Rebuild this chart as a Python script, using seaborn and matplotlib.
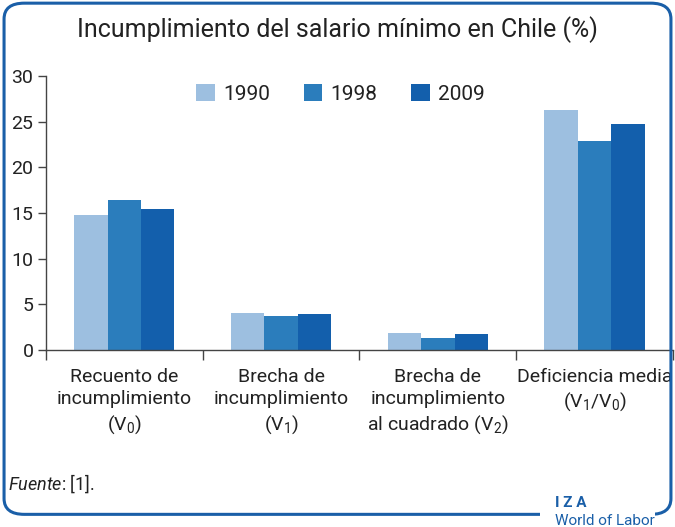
import numpy as np
import pandas as pd
import seaborn as sns
import matplotlib.pyplot as plt
from matplotlib.patches import FancyBboxPatch, Rectangle, Patch
from matplotlib.ticker import FixedLocator

# Data
categories = [
    "Recuento de\nincumplimiento\n(V$_0$)",
    "Brecha de\nincumplimiento\n(V$_1$)",
    "Brecha de\nincumplimiento\nal cuadrado (V$_2$)",
    "Deficiencia media\n(V$_1$/V$_0$)",
]
years = ["1990", "1998", "2009"]
v1990 = [14.8, 4.0, 1.8, 26.3]
v1998 = [16.4, 3.7, 1.3, 22.9]
v2009 = [15.4, 3.9, 1.75, 24.75]
colors = ["#9dbfe0", "#2b7dbc", "#135fac"]

df = pd.DataFrame({
    "cat": categories * 3,
    "year": [y for y in years for _ in categories],
    "value": v1990 + v1998 + v2009,
})

sns.set_style("white")
plt.rcParams["font.family"] = ["Roboto", "DejaVu Sans"]
plt.rcParams["mathtext.fontset"] = "custom"
plt.rcParams["mathtext.rm"] = "Roboto"
plt.rcParams["mathtext.it"] = "Roboto:italic"
plt.rcParams["mathtext.default"] = "rm"

fig = plt.figure(figsize=(6.75, 5.27), dpi=100)
ax = fig.add_axes([0.068, 0.336, 0.929, 0.52])

sns.barplot(data=df, x="cat", y="value", hue="year", palette=colors,
            width=0.64, saturation=1, linewidth=0, ax=ax, legend=False)

ax.set_xlim(-0.5, 3.5)
ax.set_ylim(0, 30)
ax.set_yticks(np.arange(0, 31, 5))
ax.set_xlabel("")
ax.set_ylabel("")
for s in ["top", "right"]:
    ax.spines[s].set_visible(False)
for s in ["left", "bottom"]:
    ax.spines[s].set_color("#444444")
    ax.spines[s].set_linewidth(1.0)

ax.tick_params(axis="y", direction="out", length=6, width=1, color="#444444",
               labelsize=14, labelcolor="#222222", left=True, pad=3)
ax.tick_params(axis="x", which="major", length=0, labelsize=14,
               labelcolor="#222222", pad=13)
ax.xaxis.set_minor_locator(FixedLocator([-0.5, 0.5, 1.5, 2.5, 3.5]))
ax.tick_params(axis="x", which="minor", direction="out", length=7, width=1,
               color="#444444", bottom=True)
for lab in ax.get_xticklabels():
    lab.set_linespacing(1.3)

handles = [Patch(facecolor=c, edgecolor="none") for c in colors]
ax.legend(handles, years, loc="upper center", bbox_to_anchor=(0.47, 1.04),
          ncol=3, frameon=False, fontsize=15, handlelength=0.9,
          handleheight=0.9, handletextpad=0.4, columnspacing=1.6,
          labelcolor="#222222")

fig.suptitle("Incumplimiento del salario mínimo en Chile (%)", x=0.5, y=0.97,
             fontsize=18, color="#222222")
fig.text(0.012, 0.07, "$\\it{Fuente}$: [1].", fontsize=13, color="#222222")

# rounded frame
frame = FancyBboxPatch((0.006, 0.024), 0.988, 0.97,
                       boxstyle="round,pad=0,rounding_size=0.03",
                       transform=fig.transFigure, facecolor="none",
                       edgecolor="#1a5fa8", linewidth=2.2, zorder=5)
fig.patches.append(frame)
fig.patches.append(Rectangle((0.80, 0.0), 0.17, 0.06, transform=fig.transFigure,
                             facecolor="white", edgecolor="none", zorder=6))
fig.text(0.822, 0.038, "I Z A", fontsize=11, fontweight="bold",
         color="#1a5fa8", zorder=7)
fig.text(0.822, 0.003, "World of Labor", fontsize=11, color="#1a5fa8", zorder=7)

fig.savefig("out.png", dpi=100)
